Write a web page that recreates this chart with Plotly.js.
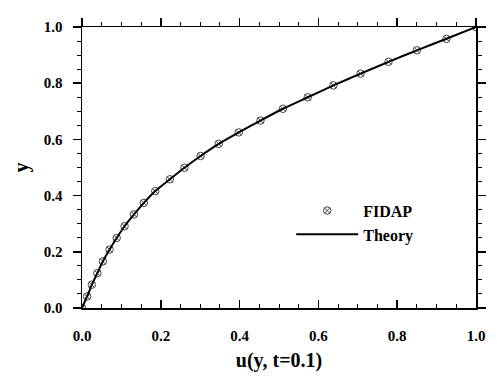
<!DOCTYPE html>
<html>
<head>
<meta charset="utf-8">
<script src="https://cdn.plot.ly/plotly-3.0.1.min.js"></script>
<style>html,body{margin:0;padding:0;background:#fff;}#chart{width:499px;height:392px;}</style>
</head>
<body>
<div id="chart"></div>
<script>
// FIDAP numerical solution
const fidapU = [0.000, 0.013, 0.025, 0.039, 0.053, 0.070, 0.088, 0.108, 0.132, 0.157, 0.186, 0.223, 0.260, 0.301, 0.347, 0.398, 0.453, 0.510, 0.573, 0.638, 0.707, 0.778, 0.850, 0.925, 1.000];
const fidapY = [0.000, 0.041, 0.083, 0.124, 0.166, 0.208, 0.249, 0.291, 0.333, 0.374, 0.416, 0.458, 0.499, 0.541, 0.584, 0.625, 0.667, 0.709, 0.750, 0.792, 0.834, 0.876, 0.917, 0.958, 1.000];
// Theory curve
const theoryU = [0.000, 0.013, 0.025, 0.039, 0.053, 0.070, 0.088, 0.108, 0.132, 0.157, 0.186, 0.223, 0.260, 0.301, 0.347, 0.398, 0.453, 0.510, 0.573, 0.638, 0.707, 0.778, 0.850, 0.925, 1.000];
const theoryY = [0.000, 0.041, 0.083, 0.124, 0.166, 0.208, 0.249, 0.291, 0.333, 0.374, 0.416, 0.458, 0.499, 0.541, 0.584, 0.625, 0.667, 0.709, 0.750, 0.792, 0.834, 0.876, 0.917, 0.958, 1.000];
const tickVals = [0, 0.2, 0.4, 0.6, 0.8, 1.0];
const tickText = ["0.0", "0.2", "0.4", "0.6", "0.8", "1.0"];

const FONT = '"Liberation Serif", "Times New Roman", serif';

const traces = [
  {
    x: fidapU, y: fidapY, name: 'FIDAP', mode: 'markers', type: 'scatter',
    marker: {symbol: 'circle-x-open', size: 7.5, color: '#444', line: {width: 1, color: '#444'}}
  },
  {
    x: theoryU, y: theoryY, name: 'Theory', mode: 'lines', type: 'scatter',
    line: {color: '#000', width: 2, shape: 'spline', smoothing: 0.6}
  },
  {x: [], y: [], xaxis: 'x2', yaxis: 'y2', showlegend: false, hoverinfo: 'skip'}
];

const tickFont = {family: FONT, size: 15, color: '#000', weight: 'bold'};

const layout = {
  width: 499, height: 392,
  margin: {l: 82, r: 23, t: 27, b: 84},
  paper_bgcolor: '#fff', plot_bgcolor: '#fff',
  font: {family: FONT, color: '#000', weight: 'bold'},
  showlegend: true,
  legend: {
    x: 0.531, y: 0.407, xanchor: 'left', yanchor: 'top',
    bgcolor: 'rgba(0,0,0,0)', borderwidth: 0,
    font: {family: FONT, size: 16, color: '#000', weight: 'bold'},
    itemwidth: 62, tracegroupgap: 0
  },
  xaxis: {
    range: [0, 1], tickvals: tickVals, ticktext: tickText,
    ticks: 'inside', ticklen: 8, tickwidth: 1.5, tickcolor: '#000',
    minor: {dtick: 0.05, ticks: 'inside', ticklen: 4, tickwidth: 1, tickcolor: '#000', showgrid: false},
    showline: true, linecolor: '#000', linewidth: 1.5,
    showgrid: false, zeroline: false, tickfont: tickFont,
    ticklabelstandoff: 13,
    title: {text: 'u(y, t=0.1)', font: {family: FONT, size: 20, color: '#000', weight: 'bold'}, standoff: 10}
  },
  yaxis: {
    range: [0, 1], tickvals: tickVals, ticktext: tickText,
    ticks: 'outside', ticklen: 8, tickwidth: 1.5, tickcolor: '#000',
    minor: {dtick: 0.05, ticks: 'outside', ticklen: 4, tickwidth: 1, tickcolor: '#000', showgrid: false},
    showline: true, linecolor: '#000', linewidth: 1.5,
    showgrid: false, zeroline: false, tickfont: tickFont,
    ticklabelstandoff: 7,
    title: {text: 'y', font: {family: FONT, size: 20, color: '#000', weight: 'bold'}, standoff: 10}
  },
  xaxis2: {
    overlaying: 'x', side: 'top', range: [0, 1], tickvals: tickVals,
    ticks: 'outside', ticklen: 8, tickwidth: 1.5, tickcolor: '#000',
    minor: {dtick: 0.05, ticks: 'outside', ticklen: 4, tickwidth: 1, tickcolor: '#000', showgrid: false},
    showline: true, linecolor: '#000', linewidth: 1.5,
    showgrid: false, zeroline: false, showticklabels: false
  },
  yaxis2: {
    overlaying: 'y', side: 'right', range: [0, 1], tickvals: tickVals,
    ticks: 'outside', ticklen: 8, tickwidth: 1.5, tickcolor: '#000',
    minor: {dtick: 0.05, ticks: 'outside', ticklen: 4, tickwidth: 1, tickcolor: '#000', showgrid: false},
    showline: true, linecolor: '#000', linewidth: 1.5,
    showgrid: false, zeroline: false, showticklabels: false
  }
};

Plotly.newPlot('chart', traces, layout, {staticPlot: true, displayModeBar: false});
</script>
</body>
</html>
